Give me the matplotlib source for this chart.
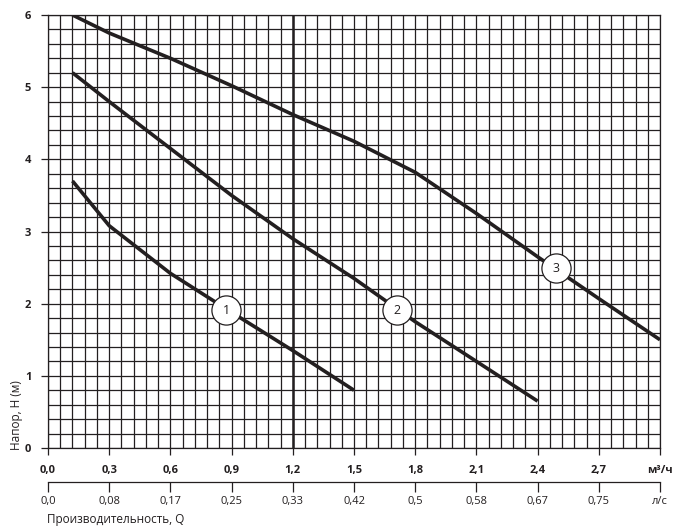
import numpy as np
import matplotlib.pyplot as plt

plt.rcParams['font.family'] = ['Open Sans', 'DejaVu Sans']

# flow (m3/h) and head (m) for the three pump speeds
q1 = [0.12, 0.3, 0.6, 0.9, 1.2, 1.5]
h1 = [3.7, 3.08, 2.42, 1.88, 1.35, 0.8]
q2 = [0.12, 0.3, 0.6, 0.9, 1.2, 1.5, 1.8, 2.1, 2.4]
h2 = [5.2, 4.8, 4.15, 3.5, 2.9, 2.35, 1.75, 1.2, 0.65]
q3 = [0.12, 0.3, 0.6, 0.9, 1.2, 1.5, 1.8, 2.1, 2.4, 2.7, 3.0]
h3 = [6.0, 5.75, 5.4, 5.02, 4.62, 4.25, 3.82, 3.25, 2.65, 2.07, 1.5]

curve_names = ['1', '2', '3']
label_q = [0.874, 1.713, 2.488]
label_h = [1.91, 1.91, 2.49]

x_ticks = [0.0, 0.3, 0.6, 0.9, 1.2, 1.5, 1.8, 2.1, 2.4, 2.7, 3.0]
x_labels = ['0,0', '0,3', '0,6', '0,9', '1,2', '1,5', '1,8', '2,1', '2,4', '2,7', 'м³/ч']
ls_labels = ['0,0', '0,08', '0,17', '0,25', '0,33', '0,42', '0,5', '0,58', '0,67', '0,75', 'л/с']
y_ticks = [0, 1, 2, 3, 4, 5, 6]

ink = '#231f20'

fig = plt.figure(figsize=(6.99, 5.31), dpi=100)
ax = fig.add_axes([48/699, 1 - 448/531, 612/699, 433/531])

ax.set_xlim(0, 3.0)
ax.set_ylim(0, 6)

# grid paper
ax.set_xticks(np.arange(0, 3.001, 0.06), minor=True)
ax.set_yticks(np.arange(0, 6.001, 0.2), minor=True)
ax.grid(True, which='both', color=ink, linewidth=0.9)
ax.axvline(1.2, color=ink, linewidth=1.8)
for s in ax.spines.values():
    s.set_color(ink)
    s.set_linewidth(0.9)

ax.set_xticks(x_ticks)
ax.set_xticklabels(x_labels, fontsize=8, fontweight='bold', color=ink)
ax.set_yticks(y_ticks)
ax.set_yticklabels([str(v) for v in y_ticks], fontsize=8, fontweight='bold', color=ink)
ax.tick_params(which='major', direction='out', length=5, width=0.9, color=ink, pad=7)
ax.tick_params(which='minor', length=0)

for q, h in [(q1, h1), (q2, h2), (q3, h3)]:
    ax.plot(q, h, color=ink, linewidth=2.6, solid_capstyle='butt',
            solid_joinstyle='round', zorder=3)

for name, lq, lh in zip(curve_names, label_q, label_h):
    ax.plot(lq, lh, 'o', markersize=21, markerfacecolor='white',
            markeredgecolor=ink, markeredgewidth=0.9, zorder=4)
    ax.text(lq, lh, name, ha='center', va='center', fontsize=9, color=ink, zorder=5)

ax.set_ylabel('Напор, H (м)', fontsize=8.5, color=ink)
ax.yaxis.set_label_coords(-0.041, 0.075)

# second flow scale in l/s
sec = ax.secondary_xaxis(-34/433)
sec.set_xticks(x_ticks)
sec.set_xticklabels(ls_labels, fontsize=8, color=ink)
sec.tick_params(direction='out', length=7, width=0.9, color=ink, pad=3)
sec.spines['bottom'].set_color(ink)
sec.spines['bottom'].set_linewidth(0.9)

fig.text(47/699, 1 - 519/531, 'Производительность, Q', fontsize=8.5, color=ink,
         ha='left', va='center')

fig.savefig('out.png', dpi=100)
